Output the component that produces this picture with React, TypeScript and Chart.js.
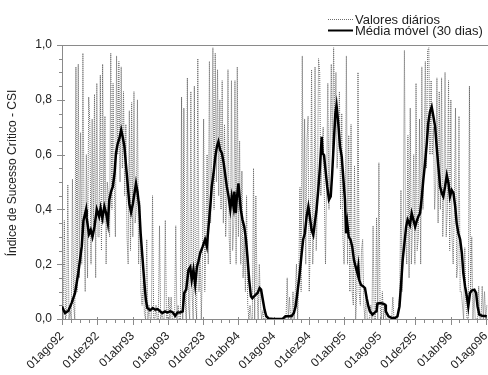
import { useEffect, useRef } from 'react';
import { Chart, registerables } from 'chart.js';

Chart.register(...registerables);

const startDate = '1992-08-01';
const xMaxDay = 1468;
const xTickDates = ['1992-08-01', '1992-12-01', '1993-04-01', '1993-08-01', '1993-12-01', '1994-04-01', '1994-08-01', '1994-12-01', '1995-04-01', '1995-08-01', '1995-12-01', '1996-04-01', '1996-08-01'];
const xTickLabels = ['01ago92', '01dez92', '01abr93', '01ago93', '01dez93', '01abr94', '01ago94', '01dez94', '01abr95', '01ago95', '01dez95', '01abr96', '01ago96'];
const yTickValues = [0, 0.2, 0.4, 0.6, 0.8, 1.0];
const seriesLabels = ['Valores diários', 'Média móvel (30 dias)'];
const yAxisTitle = 'Índice de Sucesso Crítico - CSI';

// daily values, one reading every 4 days from 01ago92
const dailyStepDays = 4;
const dailyValues = [
  0.05, 0.0, 0.36, 0.0, 0.02, 0.49, 0.0, 0.03,
  0.0, 0.51, 0.05, 0.0, 0.92, 0.1, 0.93, 0.15,
  0.68, 0.2, 0.97, 0.35, 0.1, 0.6, 0.15, 0.81,
  0.71, 0.2, 0.73, 0.3, 0.82, 0.15, 0.86, 0.3,
  0.3, 0.89, 0.25, 0.93, 0.35, 0.74, 0.2, 0.5,
  0.45, 0.3, 0.97, 0.4, 0.86, 0.5, 0.3, 0.96,
  0.6, 0.94, 0.5, 0.92, 0.55, 0.83, 0.45, 0.71,
  0.3, 0.2, 0.76, 0.25, 0.79, 0.3, 0.83, 0.35,
  0.4, 0.8, 0.2, 0.43, 0.1, 0.05, 0.14, 0.02,
  0.0, 0.29, 0.0, 0.05, 0.0, 0.0, 0.45, 0.0,
  0.0, 0.05, 0.0, 0.0, 0.34, 0.0, 0.02, 0.0,
  0.0, 0.36, 0.0, 0.0, 0.08, 0.0, 0.08, 0.0,
  0.0, 0.0, 0.34, 0.0, 0.05, 0.0, 0.0, 0.81,
  0.0, 0.77, 0.1, 0.0, 0.88, 0.05, 0.0, 0.83,
  0.1, 0.0, 0.85, 0.05, 0.0, 0.95, 0.1, 0.25,
  0.0, 0.2, 0.73, 0.1, 0.3, 0.6, 0.2, 0.94,
  0.35, 0.6, 0.99, 0.4, 0.97, 0.5, 0.91, 0.45,
  0.8, 0.4, 0.87, 0.35, 0.71, 0.3, 0.45, 0.91,
  0.3, 0.2, 0.87, 0.25, 0.35, 0.87, 0.2, 0.92,
  0.3, 0.65, 0.2, 0.54, 0.15, 0.3, 0.1, 0.45,
  0.05, 0.0, 0.05, 0.0, 0.0, 0.55, 0.0, 0.45,
  0.1, 0.0, 0.2, 0.05, 0.0, 0.03, 0.0, 0.0,
  0.0, 0.0, 0.0, 0.0, 0.0, 0.0, 0.0, 0.0,
  0.0, 0.0, 0.0, 0.0, 0.0, 0.0, 0.0, 0.0,
  0.0, 0.0, 0.15, 0.0, 0.08, 0.0, 0.0, 0.1,
  0.0, 0.1, 0.2, 0.0, 0.15, 0.48, 0.1, 0.96,
  0.3, 0.73, 0.2, 0.65, 0.74, 0.1, 0.3, 0.91,
  0.2, 0.35, 0.92, 0.25, 0.4, 0.95, 0.9, 0.45,
  0.6, 0.7, 0.45, 0.2, 0.5, 0.86, 0.4, 0.65,
  0.93, 0.6, 0.99, 0.7, 0.9, 0.55, 0.65, 0.83,
  0.4, 0.75, 0.3, 0.2, 0.35, 0.96, 0.2, 0.67,
  0.1, 0.71, 0.1, 0.05, 0.56, 0.0, 0.1, 0.9,
  0.1, 0.05, 0.25, 0.29, 0.05, 0.0, 0.1, 0.0,
  0.0, 0.0, 0.05, 0.0, 0.34, 0.0, 0.0, 0.37,
  0.0, 0.57, 0.05, 0.0, 0.1, 0.0, 0.05, 0.0,
  0.0, 0.0, 0.0, 0.0, 0.0, 0.08, 0.0, 0.0,
  0.0, 0.0, 0.05, 0.1, 0.47, 0.1, 0.3, 0.98,
  0.3, 0.2, 0.67, 0.15, 0.77, 0.2, 0.35, 0.6,
  0.2, 0.86, 0.25, 0.3, 0.73, 0.2, 0.92, 0.4,
  0.6, 0.94, 0.55, 0.98, 0.99, 0.6, 0.87, 0.6,
  0.7, 0.4, 0.5, 0.88, 0.35, 0.83, 0.4, 0.88,
  0.3, 0.45, 0.9, 0.3, 0.4, 0.87, 0.25, 0.8,
  0.3, 0.2, 0.4, 0.77, 0.15, 0.2, 0.74, 0.1,
  0.1, 0.05, 0.0, 0.26, 0.05, 0.0, 0.0, 0.85,
  0.1, 0.3, 0.0, 0.1, 0.0, 0.0, 0.0, 0.12,
  0.0, 0.0, 0.12, 0.0, 0.1, 0.0, 0.05,
];

// 30-day moving average: day offset from 01ago92 and value
const maDays = [
  0, 10, 22, 33, 45, 56, 68, 74, 83, 85,
  93, 99, 105, 112, 120, 128, 133, 139, 146, 152,
  158, 163, 169, 175, 181, 186, 192, 198, 204, 209,
  215, 221, 227, 232, 238, 244, 250, 255, 260, 266,
  271, 277, 283, 289, 294, 304, 313, 321, 329, 338,
  346, 355, 363, 373, 382, 390, 398, 407, 416, 421,
  428, 436, 442, 447, 453, 459, 465, 470, 476, 485,
  493, 499, 505, 511, 516, 522, 528, 534, 539, 545,
  551, 557, 562, 568, 574, 580, 585, 591, 594, 599,
  602, 608, 612, 616, 622, 628, 634, 639, 645, 651,
  656, 662, 668, 674, 681, 686, 692, 698, 704, 712,
  729, 760, 770, 791, 799, 805, 811, 818, 826, 831,
  837, 843, 849, 854, 860, 866, 872, 877, 883, 889,
  895, 898, 903, 908, 914, 920, 926, 931, 937, 942,
  946, 952, 958, 964, 969, 975, 979, 983, 988, 994,
  1000, 1006, 1012, 1018, 1021, 1024, 1030, 1038, 1044, 1050,
  1056, 1061, 1070, 1078, 1084, 1087, 1096, 1107, 1114, 1116,
  1125, 1136, 1148, 1156, 1163, 1168, 1174, 1180, 1186, 1191,
  1199, 1205, 1211, 1217, 1222, 1228, 1234, 1240, 1245, 1251,
  1257, 1262, 1268, 1274, 1280, 1286, 1291, 1297, 1303, 1309,
  1314, 1320, 1326, 1332, 1337, 1343, 1349, 1355, 1360, 1366,
  1372, 1378, 1383, 1389, 1395, 1400, 1406, 1412, 1421, 1427,
  1432, 1438, 1447, 1464,
];
const maValues = [
  0.046, 0.022, 0.03, 0.058, 0.095, 0.167, 0.265, 0.36, 0.40, 0.37,
  0.31, 0.325, 0.30, 0.337, 0.40, 0.374, 0.404, 0.368, 0.41, 0.386,
  0.35, 0.435, 0.465, 0.483, 0.53, 0.605, 0.64, 0.66, 0.69, 0.665,
  0.63, 0.556, 0.483, 0.42, 0.39, 0.42, 0.46, 0.495, 0.465, 0.41,
  0.313, 0.228, 0.143, 0.07, 0.04, 0.032, 0.04, 0.034, 0.036, 0.028,
  0.022, 0.028, 0.024, 0.028, 0.024, 0.012, 0.024, 0.024, 0.028, 0.095,
  0.107, 0.18, 0.19, 0.143, 0.18, 0.125, 0.19, 0.21, 0.24, 0.265,
  0.29, 0.265, 0.337, 0.41, 0.483, 0.53, 0.59, 0.63, 0.647, 0.617,
  0.605, 0.57, 0.53, 0.483, 0.447, 0.40, 0.447, 0.41, 0.465, 0.386,
  0.435, 0.495, 0.447, 0.40, 0.362, 0.337, 0.29, 0.228, 0.143, 0.083,
  0.076, 0.083, 0.089, 0.095, 0.113, 0.107, 0.07, 0.034, 0.01, 0.002,
  0, 0, 0.01, 0.01, 0.022, 0.046, 0.095, 0.155, 0.24, 0.29,
  0.313, 0.374, 0.41, 0.374, 0.325, 0.307, 0.356, 0.398, 0.47, 0.556,
  0.665, 0.605, 0.598, 0.544, 0.483, 0.435, 0.447, 0.53, 0.653, 0.75,
  0.78, 0.714, 0.63, 0.592, 0.52, 0.435, 0.313, 0.35, 0.30, 0.29,
  0.265, 0.216, 0.19, 0.167, 0.19, 0.143, 0.125, 0.119, 0.113, 0.076,
  0.046, 0.028, 0.016, 0.024, 0.028, 0.056, 0.058, 0.056, 0.052, 0.028,
  0.01, 0.004, 0.004, 0.01, 0.046, 0.119, 0.216, 0.277, 0.337, 0.362,
  0.343, 0.386, 0.362, 0.337, 0.356, 0.374, 0.386, 0.447, 0.507, 0.568,
  0.641, 0.714, 0.756, 0.774, 0.738, 0.70, 0.63, 0.556, 0.483, 0.459,
  0.447, 0.483, 0.525, 0.495, 0.447, 0.47, 0.459, 0.41, 0.35, 0.313,
  0.29, 0.24, 0.167, 0.119, 0.083, 0.046, 0.095, 0.104, 0.107, 0.095,
  0.046, 0.016, 0.012, 0.01,
];

const FONT = "'Liberation Sans', Arial, sans-serif";
const AXIS_COLOR = '#8a8a8a';
const TEXT_COLOR = '#222222';

const dayOf = (iso: string) => {
  const [y, m, d] = iso.split('-').map(Number);
  const [y0, m0, d0] = startDate.split('-').map(Number);
  return Math.round((Date.UTC(y, m - 1, d) - Date.UTC(y0, m0 - 1, d0)) / 86400000);
};

const majorTickDays = xTickDates.map(dayOf);
const monthTickDays: number[] = (() => {
  const out: number[] = [];
  const [y0, m0] = startDate.split('-').map(Number);
  for (let i = 0; i <= 48; i++) {
    const t = Date.UTC(y0, m0 - 1 + i, 1);
    out.push(Math.round((t - Date.UTC(y0, m0 - 1, 1)) / 86400000));
  }
  return out;
})();

const chromePlugin = {
  id: 'chrome',
  beforeDatasetsDraw(chart: any) {
    const { ctx, chartArea: a, scales } = chart;
    const x = scales.x;
    const y = scales.y;
    ctx.save();
    ctx.strokeStyle = AXIS_COLOR;
    ctx.lineWidth = 1;
    ctx.beginPath();
    ctx.moveTo(a.left, Math.round(a.top) + 0.5);
    ctx.lineTo(a.right, Math.round(a.top) + 0.5);
    ctx.moveTo(Math.round(a.left) + 0.5, a.top);
    ctx.lineTo(Math.round(a.left) + 0.5, a.bottom + 1);
    ctx.moveTo(a.left, Math.round(a.bottom) + 0.5);
    ctx.lineTo(a.right, Math.round(a.bottom) + 0.5);
    for (let i = 0; i <= 20; i++) {
      const py = Math.round(y.getPixelForValue(i * 0.05)) + 0.5;
      const major = i % 4 === 0;
      ctx.moveTo(Math.round(a.left) - (major ? 5 : 3), py);
      ctx.lineTo(Math.round(a.left) + (major ? 3 : 0), py);
    }
    monthTickDays.forEach((d) => {
      const px = Math.round(x.getPixelForValue(d)) + 0.5;
      const major = majorTickDays.includes(d);
      ctx.moveTo(px, Math.round(a.bottom) - (major ? 2 : 0));
      ctx.lineTo(px, Math.round(a.bottom) + (major ? 6 : 4));
    });
    ctx.stroke();
    ctx.restore();
  },
  afterDraw(chart: any) {
    const { ctx } = chart;
    const ds = chart.data.datasets;
    ctx.save();
    // y axis title
    ctx.fillStyle = TEXT_COLOR;
    ctx.font = `12px ${FONT}`;
    ctx.textAlign = 'center';
    ctx.textBaseline = 'middle';
    ctx.translate(13, 173);
    ctx.rotate(-Math.PI / 2);
    ctx.fillText(yAxisTitle, 0, 0);
    ctx.restore();

    // legend
    ctx.save();
    ctx.font = `13px ${FONT}`;
    ctx.textAlign = 'left';
    ctx.textBaseline = 'alphabetic';
    const rows = [
      { ds: ds[1], lineY: 19.5, textY: 23.5, w: 1 },
      { ds: ds[0], lineY: 30.5, textY: 35, w: 2 },
    ];
    rows.forEach((r) => {
      ctx.save();
      ctx.strokeStyle = r.ds.borderColor;
      ctx.lineWidth = r.w;
      ctx.setLineDash(r.ds.borderDash || []);
      ctx.beginPath();
      ctx.moveTo(328, r.lineY);
      ctx.lineTo(353, r.lineY);
      ctx.stroke();
      ctx.restore();
      ctx.fillStyle = TEXT_COLOR;
      ctx.fillText(r.ds.label, 355, r.textY);
    });
    ctx.restore();
  },
};

export default function App() {
  const canvasRef = useRef<HTMLCanvasElement | null>(null);

  useEffect(() => {
    if (!canvasRef.current) return;
    const dailyData = dailyValues.map((v, i) => ({ x: i * dailyStepDays, y: v }));
    const n = Math.min(maDays.length, maValues.length);
    const maData = maDays.slice(0, n).map((d, i) => ({ x: d, y: maValues[i] }));

    const chart = new Chart(canvasRef.current, {
      type: 'line',
      data: {
        datasets: [
          {
            label: seriesLabels[1],
            data: maData,
            borderColor: '#000000',
            borderWidth: 2.5,
            pointRadius: 0,
            tension: 0,
            order: 0,
          },
          {
            label: seriesLabels[0],
            data: dailyData,
            borderColor: '#6a6a6a',
            borderWidth: 1,
            borderDash: [1, 1],
            pointRadius: 0,
            tension: 0,
            order: 1,
          },
        ],
      },
      options: {
        animation: false,
        responsive: true,
        maintainAspectRatio: false,
        parsing: false as any,
        normalized: true,
        layout: { padding: { top: 45, right: 0, bottom: 0, left: 0 } },
        plugins: {
          legend: { display: false },
          title: { display: false },
          tooltip: { enabled: false },
        },
        font: { family: FONT, size: 12 },
        scales: {
          x: {
            type: 'linear',
            min: 0,
            max: xMaxDay,
            grid: { display: true, color: 'rgba(0,0,0,0)', drawTicks: true, tickLength: 4 },
            border: { display: false },
            afterBuildTicks: (s: any) => {
              s.ticks = majorTickDays.map((v) => ({ value: v }));
            },
            afterFit: (s: any) => {
              s.height = 56;
              s.paddingLeft = 0;
              s.paddingRight = 0;
            },
            ticks: {
              autoSkip: false,
              minRotation: 45,
              maxRotation: 45,
              padding: 6,
              color: TEXT_COLOR,
              font: { family: FONT, size: 12 },
              callback: (v: any) => {
                const idx = majorTickDays.indexOf(Number(v));
                return idx >= 0 ? xTickLabels[idx] : '';
              },
            },
          },
          y: {
            type: 'linear',
            min: 0,
            max: 1,
            grid: { display: true, color: 'rgba(0,0,0,0)', drawTicks: true, tickLength: 4 },
            border: { display: false },
            afterBuildTicks: (s: any) => {
              s.ticks = yTickValues.map((v) => ({ value: v }));
            },
            afterFit: (s: any) => {
              s.width = 62;
              s.paddingTop = 0;
              s.paddingBottom = 0;
            },
            ticks: {
              padding: 6,
              color: TEXT_COLOR,
              font: { family: FONT, size: 12 },
              callback: (v: any) => Number(v).toFixed(1).replace('.', ','),
            },
          },
        },
      },
      plugins: [chromePlugin],
    } as any);

    return () => chart.destroy();
  }, []);

  return (
    <div style={{ position: 'absolute', left: 0, top: 0, width: 488, height: 375, background: '#ffffff' }}>
      <canvas ref={canvasRef} />
    </div>
  );
}
